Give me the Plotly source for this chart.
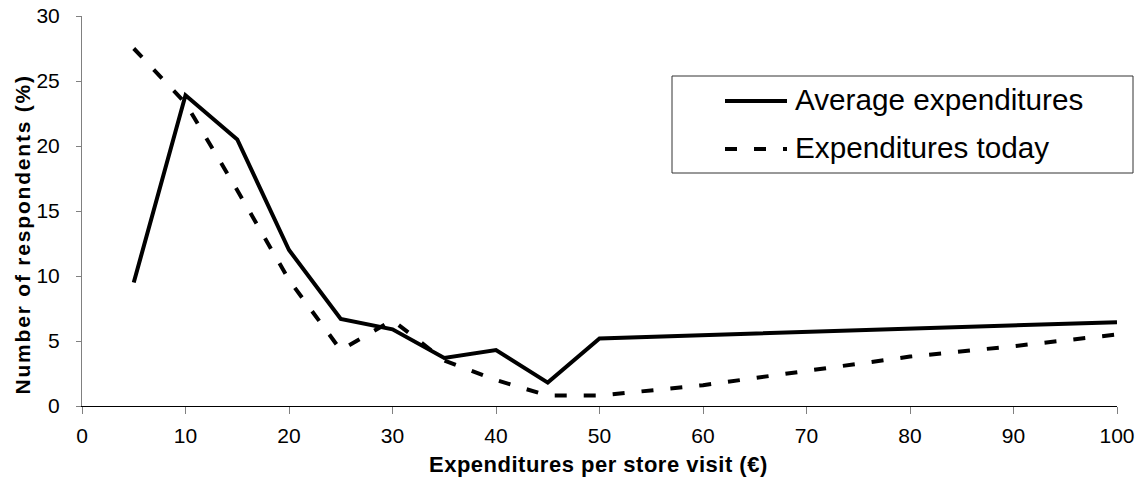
import plotly.graph_objects as go

# ---- data ----
x_avg = [5, 10, 15, 20, 25, 30, 35, 40, 45, 50, 100]
avg_expenditures = [9.5, 23.9, 20.5, 12.0, 6.7, 5.9, 3.7, 4.3, 1.8, 5.2, 6.45]

x_today = [5, 10, 15, 20, 25, 30, 35, 40, 45, 50, 60, 70, 80, 90, 100]
expenditures_today = [27.5, 23.3, 16.6, 9.7, 4.3, 6.6, 3.5, 2.0, 0.8, 0.8, 1.6, 2.7, 3.8, 4.6, 5.5]

series_names = ["Average expenditures", "Expenditures today"]
x_ticks = list(range(0, 101, 10))
y_ticks = list(range(0, 31, 5))
x_title = "Expenditures per store visit (€)"
y_title = "Number of respondents (%)"

FONT = "Liberation Sans, Arial, sans-serif"
DASH = "12px,17px"

fig = go.Figure()
fig.add_trace(go.Scatter(x=x_avg, y=avg_expenditures, mode="lines", name=series_names[0],
                         line=dict(color="black", width=4), showlegend=False))
fig.add_trace(go.Scatter(x=x_today, y=expenditures_today, mode="lines", name=series_names[1],
                         line=dict(color="black", width=4, dash=DASH), showlegend=False))

W, H = 1138, 486
L, R, T, B = 82, 21, 16, 80
pw, ph = W - L - R, H - T - B


def px(xp):
    return (xp - L) / pw


def py(yp):
    return (H - B - yp) / ph


# legend drawn as a boxed key
fig.add_shape(type="rect", xref="paper", yref="paper",
              x0=px(672), x1=px(1133), y0=py(173), y1=py(76),
              line=dict(color="#333333", width=1), fillcolor="white", layer="above")
legend_rows = [(101, dict(color="black", width=4)), (149, dict(color="black", width=4, dash=DASH))]
for name, (yrow, ln) in zip(series_names, legend_rows):
    fig.add_shape(type="line", xref="paper", yref="paper",
                  x0=px(725), x1=px(787), y0=py(yrow), y1=py(yrow), line=ln, layer="above")
    fig.add_annotation(text=name, xref="paper", yref="paper", x=px(793), y=py(yrow - 2),
                       xanchor="left", yanchor="middle", showarrow=False,
                       font=dict(family=FONT, size=29.7, color="black"))

# axis titles
fig.add_annotation(text=x_title, xref="paper", yref="paper", x=px(598), y=py(465),
                   xanchor="center", yanchor="middle", showarrow=False,
                   font=dict(family=FONT, size=22, color="black", weight="bold"))
fig.add_annotation(text=y_title, xref="paper", yref="paper", x=px(22), y=py(235),
                   xanchor="center", yanchor="middle", showarrow=False, textangle=-90,
                   font=dict(family=FONT, size=21, color="black", weight="bold"))

fig.update_layout(
    width=W, height=H,
    margin=dict(l=L, r=R, t=T, b=B, pad=0, autoexpand=False),
    paper_bgcolor="white", plot_bgcolor="white",
    font=dict(family=FONT, size=21, color="black"),
    showlegend=False,
)
fig.update_xaxes(range=[0, 100], tickvals=x_ticks, showgrid=False, zeroline=False,
                 showline=True, linecolor="black", linewidth=1, automargin=False,
                 ticks="outside", ticklen=7, tickcolor="#808080", tickwidth=1,
                 ticklabelstandoff=4, tickfont=dict(size=21))
fig.update_yaxes(range=[0, 30], tickvals=y_ticks, showgrid=False, zeroline=False,
                 showline=True, linecolor="#808080", linewidth=1, automargin=False,
                 ticks="outside", ticklen=5, tickcolor="#808080", tickwidth=1,
                 ticklabelstandoff=12, tickfont=dict(size=21))

post = """
document.documentElement.style.margin = '0';
document.documentElement.style.overflow = 'hidden';
document.body.style.margin = '0';
document.body.style.overflow = 'hidden';
document.querySelectorAll('.annotation-text').forEach(function(t){
  var s = t.textContent;
  if (s.indexOf('Number of') === 0) { t.style.letterSpacing = '1.8px'; }
  if (s.indexOf('Expenditures per') === 0) { t.style.letterSpacing = '0.5px'; }
});
"""
fig.write_html("out.html", post_script=post, config={"displayModeBar": False})
